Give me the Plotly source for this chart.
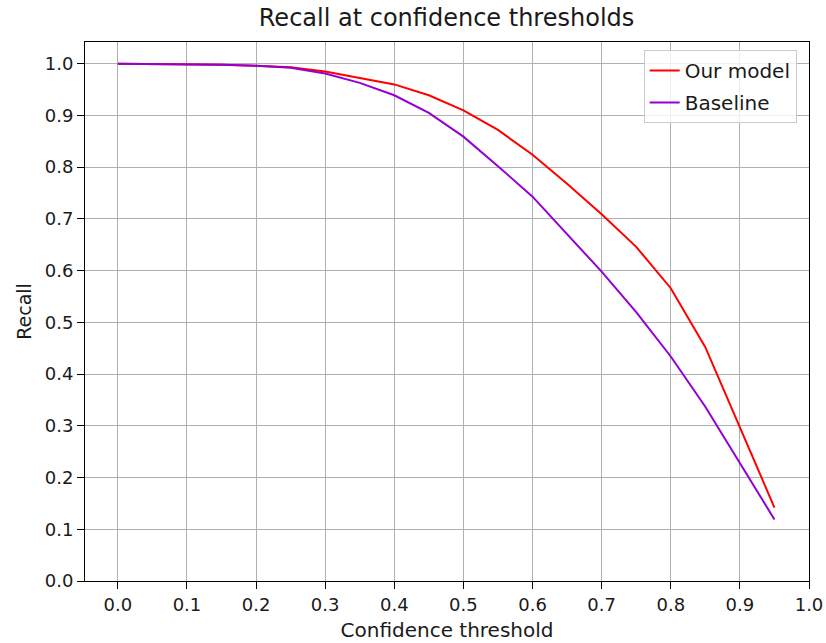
import plotly.graph_objects as go

thresholds = [0.0, 0.05, 0.1, 0.15, 0.2, 0.25, 0.3, 0.35, 0.4, 0.45,
              0.5, 0.55, 0.6, 0.65, 0.7, 0.75, 0.8, 0.85, 0.9, 0.95]
our_model = [1.0, 0.9995, 0.999, 0.998, 0.996, 0.993, 0.985, 0.973, 0.960, 0.939,
             0.910, 0.872, 0.824, 0.768, 0.709, 0.646, 0.566, 0.452, 0.298, 0.142]
baseline = [1.0, 0.9995, 0.999, 0.998, 0.996, 0.992, 0.981, 0.963, 0.939, 0.905,
            0.859, 0.802, 0.743, 0.670, 0.598, 0.520, 0.434, 0.337, 0.228, 0.119]
x_ticks = [0.0, 0.1, 0.2, 0.3, 0.4, 0.5, 0.6, 0.7, 0.8, 0.9, 1.0]
y_ticks = [0.0, 0.1, 0.2, 0.3, 0.4, 0.5, 0.6, 0.7, 0.8, 0.9, 1.0]

font = "DejaVu Sans, Arial, sans-serif"
txt = "#1a1a1a"

fig = go.Figure()
fig.add_trace(go.Scatter(x=thresholds, y=our_model, mode="lines", name="Our model",
                         legendgroup="a", line=dict(color="#ff0000", width=2)))
fig.add_trace(go.Scatter(x=thresholds, y=baseline, mode="lines", name="Baseline",
                         legendgroup="b", line=dict(color="#9400d3", width=2)))

axis_common = dict(showgrid=True, gridcolor="#b0b0b0", gridwidth=1,
                   showline=True, linecolor="black", linewidth=1, mirror=True,
                   ticks="outside", ticklen=7, tickcolor="black", tickwidth=1,
                   zeroline=False, automargin=False,
                   tickfont=dict(family=font, size=18, color=txt))

fig.update_xaxes(range=[-0.0475, 1.0], tickvals=x_ticks,
                 ticktext=[f"{v:.1f}" for v in x_ticks],
                 title=dict(text="Confidence threshold", font=dict(family=font, size=20, color=txt), standoff=9),
                 **axis_common)
fig.update_yaxes(range=[0.0, 1.042], tickvals=y_ticks,
                 ticktext=[f"{v:.1f}" for v in y_ticks],
                 title=dict(text="Recall", font=dict(family=font, size=19, color=txt), standoff=8),
                 **axis_common)

fig.update_layout(
    width=826, height=643,
    margin=dict(l=85, r=17, t=42, b=62),
    paper_bgcolor="white", plot_bgcolor="white",
    title=dict(text="Recall at confidence thresholds", x=0.5406, xanchor="center",
               y=0.972, yanchor="middle", font=dict(family=font, size=24, color=txt)),
    legend=dict(x=0.983, y=0.985, xanchor="right", yanchor="top",
                bgcolor="rgba(255,255,255,0.8)", bordercolor="#cccccc", borderwidth=1,
                font=dict(family=font, size=20, color=txt), tracegroupgap=3),
    showlegend=True,
)

fig.write_html("out.html")
